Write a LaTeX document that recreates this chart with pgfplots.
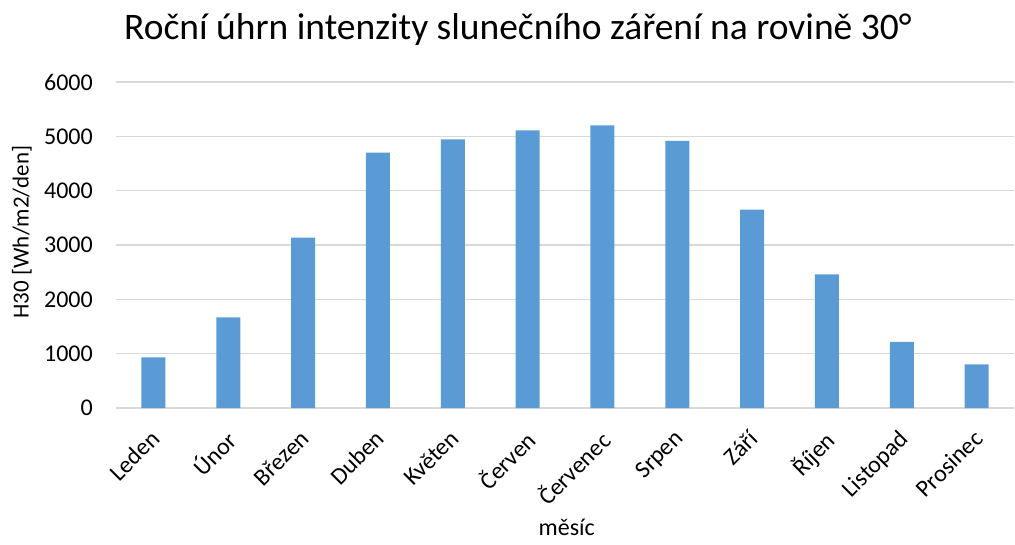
\documentclass[border=0pt]{standalone}
\usepackage{fontspec}
\setmainfont{Carlito}
\usepackage{pgfplots}
\pgfplotsset{compat=1.18}
\definecolor{barblue}{HTML}{5B9BD5}
\definecolor{gridgray}{HTML}{D9D9D9}
\begin{document}
\begin{tikzpicture}
\useasboundingbox (-116bp,-137bp) rectangle (899bp,408bp);
\begin{axis}[
  at={(0,0)}, anchor=south west,
  scale only axis,
  width=898bp, height=326bp,
  xmin=-0.5, xmax=11.5,
  ymin=0, ymax=6000,
  ytick={0,1000,...,6000},
  xtick={0,...,11},
  xticklabels={Leden,Únor,Březen,Duben,Květen,Červen,Červenec,Srpen,Září,Říjen,Listopad,Prosinec},
  x tick label style={xshift=-4bp, yshift=-19bp, rotate=45, anchor=north east, font=\fontsize{24bp}{26bp}\selectfont, inner sep=1bp},
  y tick label style={font=\fontsize{24bp}{26bp}\selectfont, inner sep=0pt, xshift=-23bp},
  /pgf/number format/assume math mode=true,
  /pgf/number format/1000 sep={},
  major tick length=0pt,
  ymajorgrids,
  grid style={gridgray, line width=1.2bp},
  axis line style={draw=none},
  axis x line*=bottom,
  axis y line*=left,
  ybar, bar width=24bp,
  xlabel={měsíc},
  ylabel={H30 [Wh/m2/den]},
  xlabel style={font=\fontsize{24bp}{26bp}\selectfont, at={(axis description cs:0.502,0)}, anchor=center, yshift=-119bp},
  ylabel style={font=\fontsize{23bp}{25bp}\selectfont, anchor=center},
  every axis y label/.append style={at={(-94bp,176bp)}},
  title={Roční úhrn intenzity slunečního záření na rovině 30°},
  title style={font=\fontsize{37.5bp}{40bp}\selectfont, at={(402bp,373bp)}, anchor=center},
]
\addplot[fill=barblue, draw=none] coordinates {
(0,934) (1,1666) (2,3135) (3,4702) (4,4942) (5,5108)
(6,5200) (7,4917) (8,3651) (9,2459) (10,1217) (11,805)};
\end{axis}
\end{tikzpicture}
\end{document}
